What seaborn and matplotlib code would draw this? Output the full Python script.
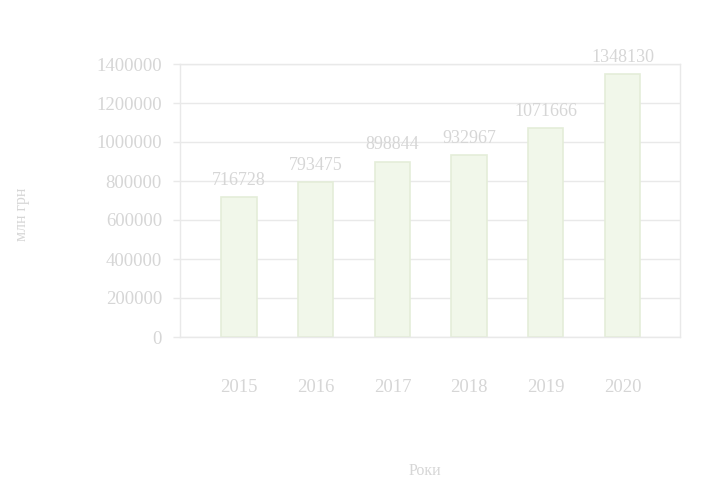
import matplotlib
matplotlib.use("Agg")
import matplotlib.pyplot as plt
import seaborn as sns
import pandas as pd

# Річні обсяги, млн грн
years = ["2015", "2016", "2017", "2018", "2019", "2020"]
values = [716728, 793475, 898844, 932967, 1071666, 1348130]
y_ticks = [0, 200000, 400000, 600000, 800000, 1000000, 1200000, 1400000]

sns.set_theme(style="white")
plt.rcParams["font.family"] = ["Liberation Serif", "DejaVu Serif"]

text_col = "#d6d6d6"
grid_col = "#e9e9e9"
bar_col = "#f1f7ea"
edge_col = "#e4edd9"

df = pd.DataFrame({"year": years, "value": values})

fig = plt.figure(figsize=(7.18, 4.83), dpi=100)
ax = fig.add_axes([180 / 718, 146 / 483, 500 / 718, 273 / 483])

sns.barplot(data=df, x="year", y="value", color=bar_col, width=0.46,
            edgecolor=edge_col, linewidth=1.2, saturation=1, ax=ax)

ax.set_xlim(-0.77, 5.75)
ax.set_ylim(0, 1400000)
ax.set_yticks(y_ticks)
ax.set_yticklabels([str(v) for v in y_ticks])
ax.yaxis.grid(True, color=grid_col, linewidth=1)
ax.set_axisbelow(True)

for side in ["left", "right", "top", "bottom"]:
    ax.spines[side].set_visible(True)
    ax.spines[side].set_color(grid_col)
    ax.spines[side].set_linewidth(1)

ax.tick_params(axis="y", which="both", left=True, length=5, width=1,
               color=grid_col, labelcolor=text_col, labelsize=13.5, pad=8)
ax.tick_params(axis="x", which="both", bottom=False, labelcolor=text_col,
               labelsize=13.5, pad=24)

ax.bar_label(ax.containers[0], labels=[str(v) for v in values],
             padding=6, color=text_col, fontsize=13)

ax.set_xlabel("Роки", color=text_col, fontsize=11.5)
ax.set_ylabel("млн грн", color=text_col, fontsize=11.5)
ax.xaxis.set_label_coords(0.49, -0.46)
ax.yaxis.set_label_coords(-0.30, 0.45)

fig.savefig("out.png", dpi=100, facecolor="white")
